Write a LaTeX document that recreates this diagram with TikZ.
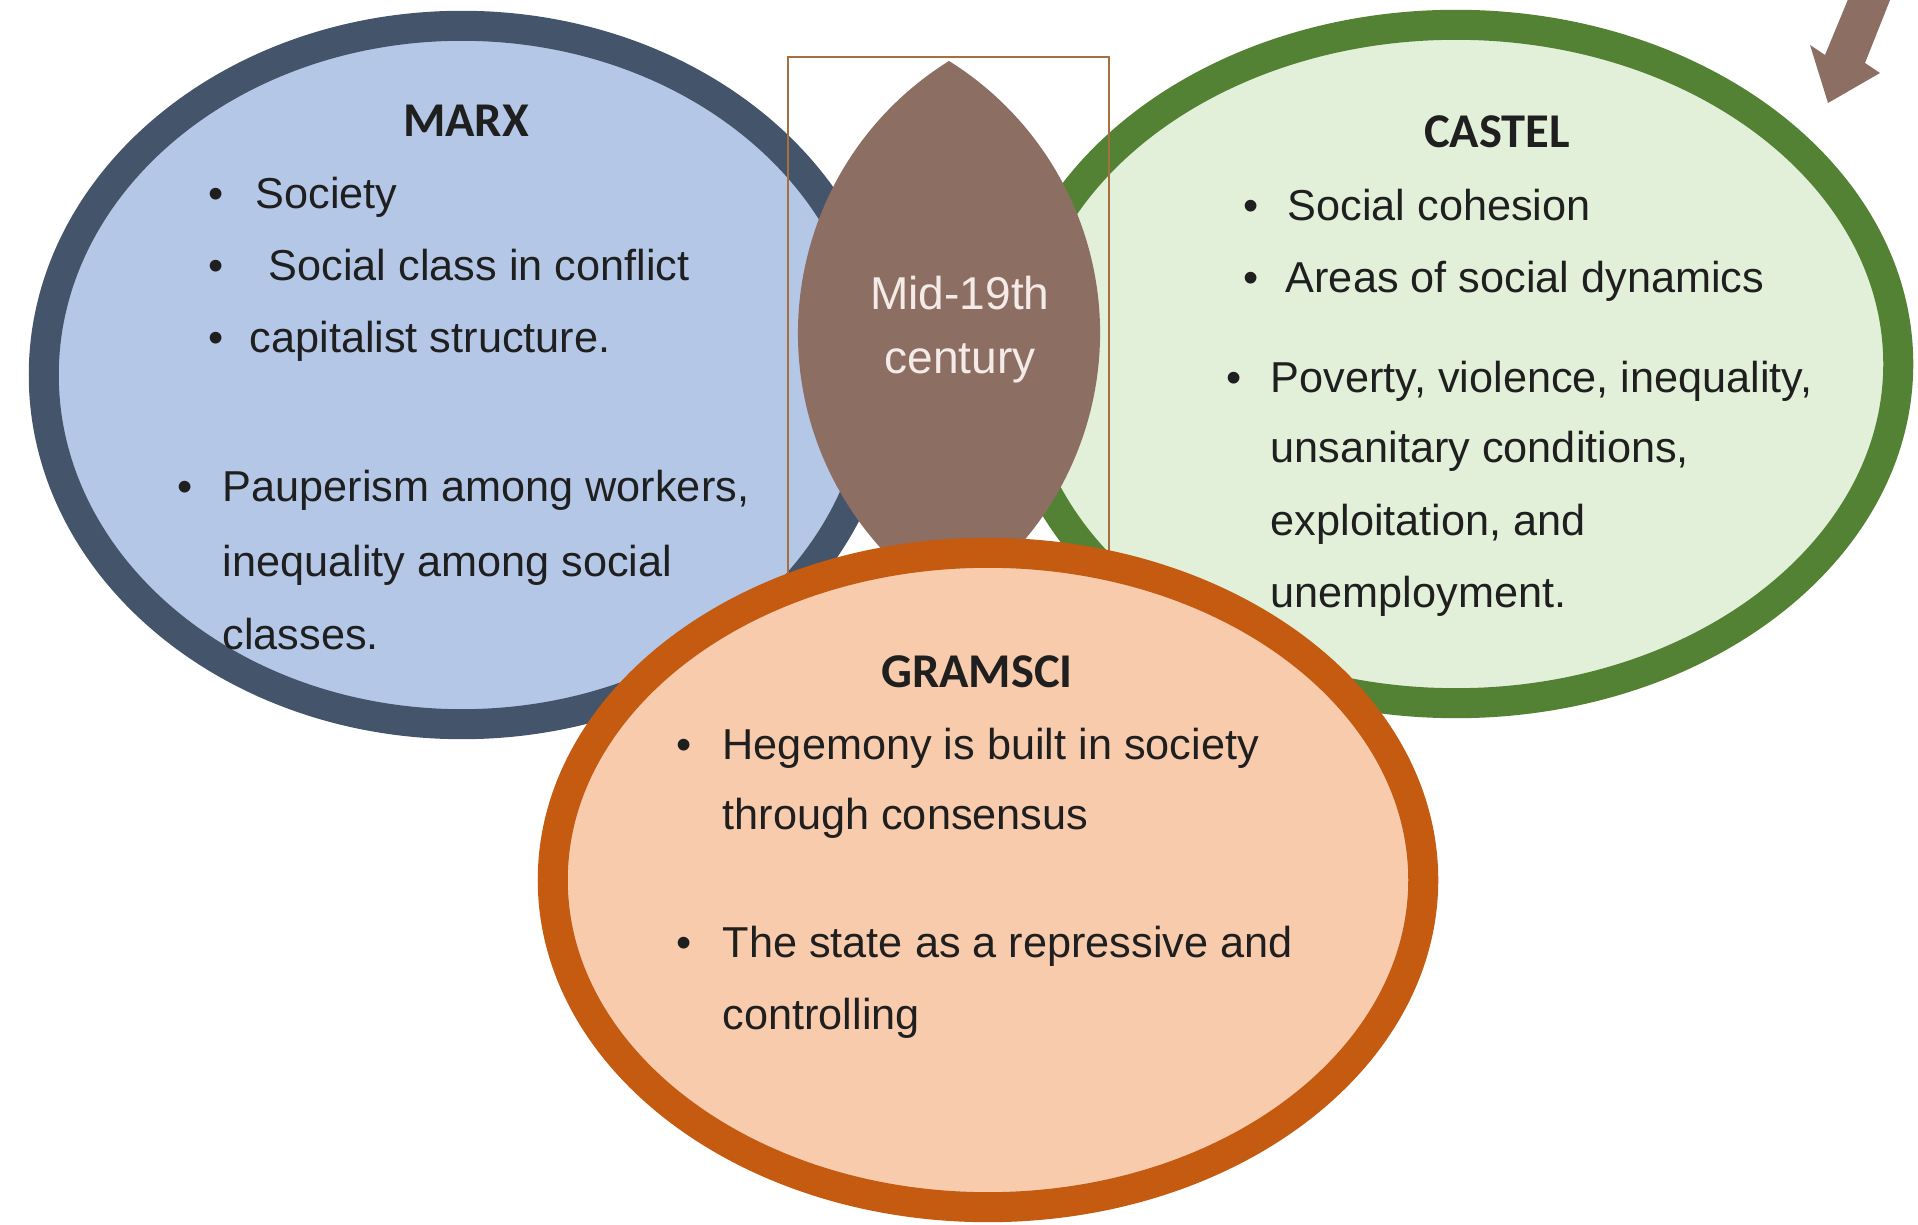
\documentclass[tikz,border=0pt]{standalone}
\usepackage{fontspec}
\setmainfont{Liberation Sans}
\newfontfamily\headfont{Carlito}
\usepackage{tikz}
\usetikzlibrary{shapes.geometric}

\definecolor{marxfill}{HTML}{B4C7E7}
\definecolor{marxline}{HTML}{44546A}
\definecolor{castelfill}{HTML}{E2F0D9}
\definecolor{castelline}{HTML}{548235}
\definecolor{gramscifill}{HTML}{F8CBAD}
\definecolor{gramsciline}{HTML}{C55A11}
\definecolor{lensbrown}{HTML}{8D6E63}
\definecolor{framecol}{RGB}{165,112,62}
\definecolor{eratext}{HTML}{F4EAE7}

\begin{document}
\begin{tikzpicture}[x=0.01cm,y=0.01cm,
  every node/.style={inner sep=0pt,text=black!88},
  sphere/.style={draw,ellipse,line width=0.3cm,inner sep=0pt},
  thinker/.style={anchor=base,font=\headfont\bfseries\fontsize{13.8}{16}\selectfont},
  itemtext/.style={anchor=base west,font=\fontsize{12.3}{15}\selectfont},
  bul/.style={anchor=base,font=\fontsize{12.3}{15}\selectfont},
  eratxt/.style={anchor=base,text=eratext,font=\fontsize{13.1}{16}\selectfont}]

    \useasboundingbox (0,0) rectangle (1918,1224);

    % the three circles
    \node[sphere,fill=marxfill,draw=marxline,minimum width=8.36cm,minimum height=6.98cm] (marx) at (462,849) {};
    \node[sphere,fill=castelfill,draw=castelline,minimum width=8.84cm,minimum height=6.78cm] (castel) at (1456,860) {};
    \node[draw=framecol,line width=0.6pt,minimum width=3.21cm,minimum height=5.43cm] (frame) at (948.5,895.5) {};
    \fill[lensbrown] (949,1163) arc[start angle=121.94,end angle=238.06,radius=3.205cm]
        arc[start angle=-58.06,end angle=58.06,radius=3.205cm] -- cycle;
    \node[sphere,fill=gramscifill,draw=gramsciline,minimum width=8.70cm,minimum height=6.54cm] (gramsci) at (988,344) {};

    % arrow in the corner
    \fill[lensbrown] (1856,1244) -- (1825,1169) -- (1810,1179) -- (1828,1121)
        -- (1880,1151) -- (1865,1161) -- (1898,1244) -- cycle;

    \node[eratxt] (mid) at (960,914) {Mid-19th};
    \node[eratxt] (century) at (960,850) {century};

    % Marx
    \node[thinker] (marxname) at (466,1087) {MARX};
    \node[bul] (mb1) at (216,1015) {\textbullet};
    \node[itemtext] (society) at (255,1015) {Society};
    \node[bul] (mb2) at (216,943) {\textbullet};
    \node[itemtext] (conflict) at (268,943) {Social class in conflict};
    \node[bul] (mb3) at (216,871) {\textbullet};
    \node[itemtext] (capital) at (249,871) {capitalist structure.};
    \node[bul] (mb4) at (185,722) {\textbullet};
    \node[itemtext] (pauper) at (222,722) {Pauperism among workers,};
    \node[itemtext] (pauper2) at (222,647) {inequality among social};
    \node[itemtext] (pauper3) at (222,574) {classes.};

    % Castel
    \node[thinker] (castelname) at (1497,1076) {CASTEL};
    \node[bul] (cb1) at (1251,1003) {\textbullet};
    \node[itemtext] (cohesion) at (1287,1003) {Social cohesion};
    \node[bul] (cb2) at (1251,931) {\textbullet};
    \node[itemtext] (dynamics) at (1285,931) {Areas of social dynamics};
    \node[bul] (cb3) at (1234,831) {\textbullet};
    \node[itemtext] (poverty) at (1270,831) {Poverty, violence, inequality,};
    \node[itemtext] (poverty2) at (1270,761) {unsanitary conditions,};
    \node[itemtext] (poverty3) at (1270,688) {exploitation, and};
    \node[itemtext] (poverty4) at (1270,616) {unemployment.};

    % Gramsci
    \node[thinker] (gramsciname) at (977,536) {GRAMSCI};
    \node[bul] (gb1) at (684,464) {\textbullet};
    \node[itemtext] (hegemony) at (722,464) {Hegemony is built in society};
    \node[itemtext] (hegemony2) at (722,394) {through consensus};
    \node[bul] (gb2) at (684,266) {\textbullet};
    \node[itemtext] (state) at (722,266) {The state as a repressive and};
    \node[itemtext] (state2) at (722,194) {controlling};
\end{tikzpicture}
\end{document}
